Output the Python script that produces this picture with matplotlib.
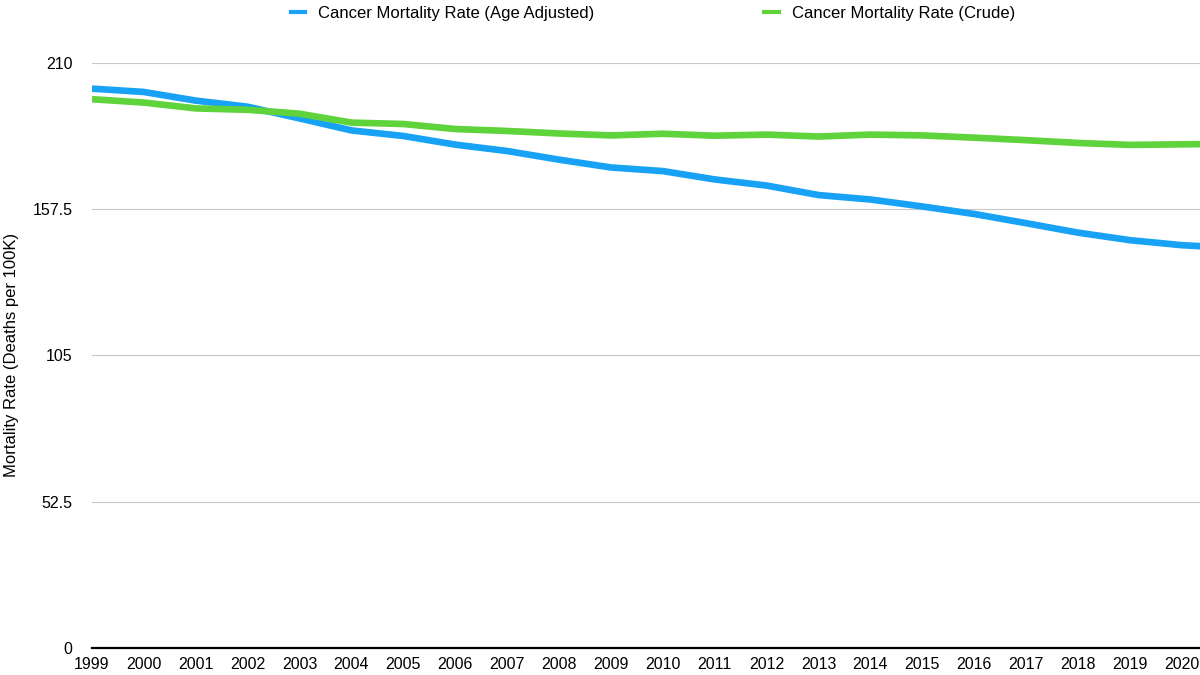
import matplotlib.pyplot as plt
from matplotlib.lines import Line2D

plt.rcParams['font.family'] = ['Liberation Sans', 'DejaVu Sans']

# the last point (2021) runs off the cropped right edge
years = list(range(1999, 2022))
age_adjusted = [200.8, 199.6, 196.5, 194.3, 190.1, 185.8, 183.8, 180.7, 178.4, 175.3, 172.5, 171.2,
                168.2, 166.0, 162.6, 161.0, 158.5, 155.8, 152.5, 149.1, 146.4, 144.6, 143.6]
crude = [197.0, 195.8, 193.7, 193.2, 191.8, 188.6, 188.1, 186.3, 185.6, 184.7, 184.0, 184.6,
         183.9, 184.3, 183.6, 184.3, 184.0, 183.2, 182.3, 181.3, 180.6, 180.8, 181.0]
tick_years = list(range(1999, 2021))
yticks = [0, 52.5, 105, 157.5, 210]
ytick_labels = ['0', '52.5', '105', '157.5', '210']
names = ['Cancer Mortality Rate (Age Adjusted)', 'Cancer Mortality Rate (Crude)']

blue = '#17a2f5'
green = '#5fd33c'

fig = plt.figure(figsize=(12, 6.75), dpi=100)
ax = fig.add_axes([92 / 1200, 27 / 675, 1 - 92 / 1200, 585 / 675])

ax.plot(years, age_adjusted, color=blue, lw=4.8, solid_capstyle='butt', solid_joinstyle='round', zorder=3)
ax.plot(years, crude, color=green, lw=4.8, solid_capstyle='butt', solid_joinstyle='round', zorder=3)

ax.set_xlim(1999, 2020.35)
ax.set_ylim(0, 210)
ax.set_xticks(tick_years)
ax.set_xticklabels([str(y) for y in tick_years])
ax.set_yticks(yticks)
ax.set_yticklabels(ytick_labels)
ax.yaxis.grid(True, color='#c8c8c8', lw=0.8)
ax.set_axisbelow(True)
for s in ['top', 'right', 'left']:
    ax.spines[s].set_visible(False)
ax.spines['bottom'].set_color('black')
ax.spines['bottom'].set_linewidth(1.6)
ax.spines['bottom'].set_zorder(4)
ax.tick_params(axis='y', length=0, pad=14, labelsize=11.5)
ax.tick_params(axis='x', length=0, pad=6.5, labelsize=11.5)

fig.text(12 / 1200, 1 - 355 / 675, 'Mortality Rate (Deaths per 100K)', rotation=90,
         ha='center', va='center', fontsize=12)

handles = [Line2D([], [], color=blue, lw=3), Line2D([], [], color=green, lw=3)]
fig.legend(handles, names, loc='upper left', bbox_to_anchor=(291 / 1200, 1 - 6 / 675), ncol=2,
           frameon=False, fontsize=12, handlelength=0.85, handletextpad=0.78, columnspacing=10.2,
           borderpad=0, borderaxespad=0)

fig.savefig('out.png', dpi=100)
